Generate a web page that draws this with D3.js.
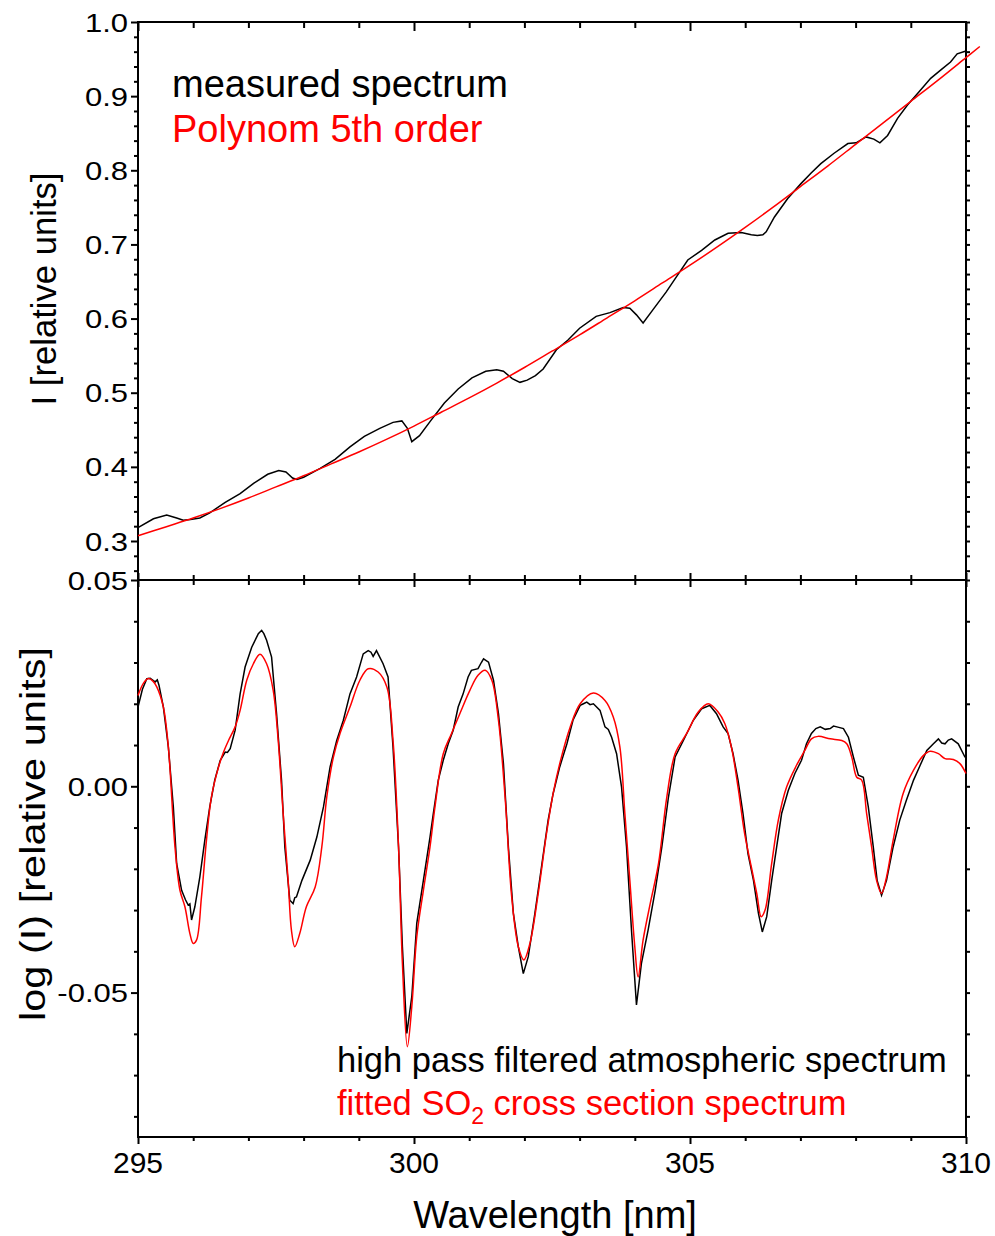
<!DOCTYPE html>
<html>
<head>
<meta charset="utf-8">
<script src="https://cdn.jsdelivr.net/npm/d3@7"></script>
<style>
  html, body { margin: 0; padding: 0; background: #fff; }
  svg { display: block; }
  text { font-family: "Liberation Sans", Arial, sans-serif; }
</style>
</head>
<body>
<svg id="chart" width="995" height="1236"></svg>
<script>
// ---------------- DATA ----------------
// Top panel: measured spectrum (wavelength nm, intensity)
const topMeasNm = [295.00,295.28,295.52,295.70,295.82,295.95,296.12,296.30,296.58,296.85,297.10,297.35,297.55,297.68,297.80,297.88,298.00,298.30,298.57,298.84,299.10,299.38,299.62,299.78,299.88,299.96,300.10,300.30,300.55,300.80,301.05,301.30,301.50,301.62,301.78,301.92,302.05,302.20,302.34,302.58,302.79,303.00,303.30,303.55,303.79,303.91,304.03,304.15,304.33,304.57,304.75,304.96,305.21,305.45,305.69,305.93,306.11,306.22,306.32,306.38,306.53,306.77,307.01,307.19,307.37,307.61,307.86,308.01,308.19,308.33,308.44,308.58,308.76,308.94,309.15,309.36,309.54,309.72,309.84,310.00];
const topMeasI  = [0.318,0.330,0.335,0.331,0.328,0.329,0.331,0.338,0.352,0.364,0.378,0.390,0.395,0.393,0.385,0.383,0.386,0.398,0.410,0.427,0.441,0.452,0.460,0.462,0.452,0.434,0.442,0.462,0.486,0.505,0.520,0.529,0.531,0.529,0.519,0.514,0.517,0.523,0.532,0.558,0.571,0.587,0.603,0.608,0.615,0.614,0.605,0.594,0.612,0.636,0.656,0.679,0.692,0.706,0.715,0.716,0.713,0.712,0.713,0.717,0.737,0.762,0.782,0.796,0.809,0.823,0.836,0.837,0.845,0.842,0.837,0.847,0.870,0.888,0.906,0.924,0.935,0.946,0.957,0.961];

// Top panel: 5th order polynomial fit
const topPolyNm = [295.0,295.5,296.0,296.5,297.0,297.5,298.0,298.5,299.0,299.5,300.0,300.5,301.0,301.5,302.0,302.5,303.0,303.5,304.0,304.5,305.0,305.5,306.0,306.5,307.0,307.5,308.0,308.5,309.0,309.5,310.0,310.25];
const topPolyI  = [0.307,0.319,0.331,0.344,0.358,0.373,0.388,0.404,0.420,0.437,0.455,0.474,0.493,0.513,0.534,0.556,0.578,0.601,0.624,0.648,0.672,0.697,0.723,0.750,0.778,0.806,0.835,0.864,0.893,0.922,0.952,0.967];

// Bottom panel: high pass filtered atmospheric spectrum
const botMeasNm = [295.00,295.08,295.16,295.22,295.31,295.35,295.38,295.46,295.55,295.64,295.70,295.79,295.86,295.91,295.94,295.97,296.03,296.12,296.21,296.30,296.39,296.49,296.58,296.62,296.67,296.76,296.85,296.94,297.06,297.18,297.24,297.28,297.33,297.42,297.51,297.60,297.66,297.75,297.81,297.84,297.87,297.97,298.12,298.24,298.36,298.48,298.60,298.72,298.84,298.96,299.08,299.17,299.22,299.26,299.32,299.44,299.53,299.62,299.72,299.79,299.87,299.96,300.05,300.17,300.29,300.35,300.44,300.53,300.62,300.71,300.80,300.89,300.98,301.04,301.16,301.22,301.26,301.35,301.44,301.53,301.62,301.71,301.80,301.89,301.98,302.07,302.19,302.31,302.43,302.52,302.64,302.77,302.88,303.01,303.07,303.13,303.19,303.25,303.37,303.46,303.52,303.58,303.67,303.76,303.85,303.94,304.03,304.12,304.24,304.37,304.49,304.61,304.73,304.88,305.06,305.21,305.36,305.48,305.60,305.69,305.78,305.87,305.96,306.05,306.15,306.24,306.31,306.39,306.48,306.57,306.66,306.78,306.90,307.02,307.11,307.20,307.28,307.36,307.45,307.54,307.60,307.66,307.78,307.87,307.96,308.05,308.14,308.23,308.32,308.39,308.47,308.56,308.68,308.80,308.92,309.05,309.17,309.29,309.41,309.50,309.56,309.62,309.68,309.74,309.86,309.98,310.00];
const botMeasV  = [0.0192,0.0235,0.0261,0.0262,0.0253,0.0258,0.0245,0.0192,0.0095,-0.0050,-0.0187,-0.0252,-0.0275,-0.0288,-0.0285,-0.0324,-0.0292,-0.0220,-0.0131,-0.0050,0.0015,0.0063,0.0083,0.0082,0.0091,0.0136,0.0224,0.0289,0.0337,0.0370,0.0378,0.0370,0.0354,0.0313,0.0176,0.0015,-0.0147,-0.0276,-0.0284,-0.0270,-0.0268,-0.0228,-0.0179,-0.0123,-0.0050,0.0047,0.0111,0.0160,0.0224,0.0265,0.0321,0.0329,0.0325,0.0315,0.0329,0.0297,0.0265,0.0095,-0.0147,-0.0389,-0.0599,-0.0510,-0.0332,-0.0228,-0.0123,-0.0066,0.0015,0.0063,0.0103,0.0136,0.0192,0.0224,0.0265,0.0281,0.0285,0.0300,0.0309,0.0301,0.0257,0.0176,0.0055,-0.0147,-0.0308,-0.0389,-0.0454,-0.0413,-0.0308,-0.0195,-0.0082,-0.0018,0.0047,0.0103,0.0160,0.0196,0.0200,0.0204,0.0198,0.0200,0.0184,0.0144,0.0138,0.0119,0.0079,-0.0002,-0.0147,-0.0349,-0.0530,-0.0429,-0.0349,-0.0252,-0.0147,-0.0026,0.0071,0.0111,0.0160,0.0188,0.0196,0.0176,0.0144,0.0128,0.0079,0.0015,-0.0066,-0.0163,-0.0228,-0.0308,-0.0353,-0.0316,-0.0228,-0.0147,-0.0066,-0.0010,0.0031,0.0063,0.0103,0.0128,0.0140,0.0144,0.0138,0.0140,0.0146,0.0144,0.0140,0.0119,0.0071,0.0027,0.0022,-0.0050,-0.0147,-0.0228,-0.0264,-0.0228,-0.0147,-0.0082,-0.0034,0.0015,0.0051,0.0087,0.0103,0.0115,0.0105,0.0103,0.0112,0.0115,0.0103,0.0071,0.0070];

// Bottom panel: fitted SO2 cross section spectrum
const botFitNm = [295.00,295.10,295.19,295.27,295.34,295.46,295.55,295.67,295.76,295.85,295.94,296.00,296.06,296.15,296.24,296.33,296.46,296.55,296.64,296.76,296.85,296.97,297.09,297.21,297.33,297.45,297.54,297.63,297.72,297.78,297.84,297.93,298.05,298.21,298.33,298.42,298.54,298.66,298.84,299.02,299.17,299.35,299.51,299.62,299.72,299.79,299.88,299.96,300.05,300.17,300.29,300.38,300.53,300.68,300.83,301.01,301.16,301.29,301.41,301.53,301.65,301.77,301.89,301.99,302.10,302.25,302.40,302.52,302.64,302.83,303.01,303.25,303.46,303.61,303.73,303.82,303.91,304.00,304.06,304.15,304.28,304.43,304.58,304.73,304.94,305.15,305.33,305.51,305.63,305.75,305.87,305.99,306.11,306.21,306.29,306.36,306.48,306.60,306.75,306.93,307.08,307.20,307.32,307.54,307.75,307.84,307.93,308.02,308.11,308.20,308.29,308.38,308.47,308.56,308.68,308.86,309.05,309.23,309.35,309.50,309.62,309.77,309.89,310.00];
const botFitV  = [0.0220,0.0250,0.0261,0.0255,0.0241,0.0192,0.0095,-0.0147,-0.0252,-0.0292,-0.0357,-0.0381,-0.0373,-0.0268,-0.0131,-0.0026,0.0047,0.0083,0.0111,0.0144,0.0184,0.0257,0.0297,0.0320,0.0297,0.0232,0.0111,-0.0066,-0.0228,-0.0349,-0.0389,-0.0357,-0.0292,-0.0244,-0.0147,-0.0026,0.0071,0.0128,0.0192,0.0257,0.0285,0.0277,0.0240,0.0111,-0.0147,-0.0429,-0.0631,-0.0534,-0.0365,-0.0252,-0.0147,-0.0050,0.0079,0.0128,0.0176,0.0232,0.0269,0.0281,0.0257,0.0160,-0.0026,-0.0268,-0.0389,-0.0421,-0.0381,-0.0260,-0.0115,-0.0018,0.0055,0.0144,0.0200,0.0226,0.0208,0.0168,0.0095,-0.0066,-0.0228,-0.0389,-0.0462,-0.0373,-0.0284,-0.0187,-0.0026,0.0079,0.0128,0.0180,0.0200,0.0180,0.0152,0.0095,-0.0002,-0.0115,-0.0195,-0.0260,-0.0316,-0.0300,-0.0187,-0.0082,-0.0002,0.0051,0.0087,0.0115,0.0121,0.0115,0.0111,0.0103,0.0071,0.0022,0.0015,-0.0066,-0.0147,-0.0228,-0.0260,-0.0220,-0.0131,-0.0018,0.0039,0.0075,0.0085,0.0079,0.0067,0.0065,0.0055,0.0031];

// Tick values / labels
const xMajorTicks = [295, 300, 305, 310];
const xMinorTicks = [296,297,298,299,301,302,303,304,306,307,308,309];
const topYMajor = [0.3,0.4,0.5,0.6,0.7,0.8,0.9,1.0];
const topYMinor = [0.26,0.28,0.32,0.34,0.36,0.38,0.42,0.44,0.46,0.48,0.52,0.54,0.56,0.58,0.62,0.64,0.66,0.68,0.72,0.74,0.76,0.78,0.82,0.84,0.86,0.88,0.92,0.94,0.96,0.98];
const botYMajor = [0.05, 0.00, -0.05];
const botYMinor = [0.04,0.03,0.02,0.01,-0.01,-0.02,-0.03,-0.04,-0.06,-0.07,-0.08];

// ---------------- LAYOUT ----------------
const L = 138, R = 966, T = 22, M = 580, B = 1137;
const svg = d3.select("#chart");

const x = d3.scaleLinear().domain([295, 310]).range([L, R]);
const yTop = d3.scaleLinear().domain([0.2474, 1.0]).range([M, T]);
const yBot = d3.scaleLinear().domain([-0.085, 0.05]).range([B, M]);

const AX = 2; // axis stroke width

function styleAxis(g) {
  g.select(".domain").remove();
  g.selectAll(".tick line").attr("stroke", "#000").attr("stroke-width", AX);
}

// ---- Top panel left axis
svg.append("g").attr("transform", `translate(${L},0)`)
  .call(d3.axisLeft(yTop).tickValues(topYMinor).tickSize(4).tickFormat(""))
  .call(styleAxis);
svg.append("g").attr("transform", `translate(${L},0)`)
  .call(d3.axisLeft(yTop).tickValues(topYMajor).tickSize(7).tickFormat(""))
  .call(styleAxis);
// right
svg.append("g").attr("transform", `translate(${R},0)`)
  .call(d3.axisRight(yTop).tickValues(topYMinor.concat(topYMajor)).tickSize(4).tickFormat(""))
  .call(styleAxis);

// ---- Bottom panel left axis
svg.append("g").attr("transform", `translate(${L},0)`)
  .call(d3.axisLeft(yBot).tickValues(botYMinor).tickSize(4).tickFormat(""))
  .call(styleAxis);
svg.append("g").attr("transform", `translate(${L},0)`)
  .call(d3.axisLeft(yBot).tickValues(botYMajor).tickSize(7).tickFormat(""))
  .call(styleAxis);
svg.append("g").attr("transform", `translate(${R},0)`)
  .call(d3.axisRight(yBot).tickValues(botYMinor.concat(botYMajor)).tickSize(4).tickFormat(""))
  .call(styleAxis);

// ---- X ticks: top edge (inward), middle (both sides), bottom (outward)
svg.append("g").attr("transform", `translate(0,${T})`)
  .call(d3.axisTop(x).tickValues(xMinorTicks).tickSize(-6).tickFormat(""))
  .call(styleAxis);
svg.append("g").attr("transform", `translate(0,${T})`)
  .call(d3.axisTop(x).tickValues(xMajorTicks).tickSize(-9).tickFormat(""))
  .call(styleAxis);
svg.append("g").attr("transform", `translate(0,${M - 5})`)
  .call(d3.axisBottom(x).tickValues(xMinorTicks).tickSize(10).tickFormat(""))
  .call(styleAxis);
svg.append("g").attr("transform", `translate(0,${M - 7})`)
  .call(d3.axisBottom(x).tickValues(xMajorTicks).tickSize(14).tickFormat(""))
  .call(styleAxis);
svg.append("g").attr("transform", `translate(0,${B})`)
  .call(d3.axisBottom(x).tickValues(xMinorTicks).tickSize(4).tickFormat(""))
  .call(styleAxis);
svg.append("g").attr("transform", `translate(0,${B})`)
  .call(d3.axisBottom(x).tickValues(xMajorTicks).tickSize(7).tickFormat(""))
  .call(styleAxis);

// ---- Frames
const frame = svg.append("g").attr("fill", "none").attr("stroke", "#000").attr("stroke-width", AX);
frame.append("rect").attr("x", L).attr("y", T).attr("width", R - L).attr("height", B - T);
frame.append("line").attr("x1", L).attr("x2", R).attr("y1", M).attr("y2", M);

// ---- Tick labels
const tickFont = 26.5;
topYMajor.forEach(v => {
  svg.append("text")
    .attr("transform", `translate(128,${yTop(v)}) scale(1.17,1)`)
    .attr("text-anchor", "end").attr("dy", "0.36em")
    .attr("font-size", tickFont).attr("fill", "#000")
    .text(v.toFixed(1));
});
botYMajor.forEach(v => {
  svg.append("text")
    .attr("transform", `translate(128,${yBot(v)}) scale(1.17,1)`)
    .attr("text-anchor", "end").attr("dy", "0.36em")
    .attr("font-size", tickFont).attr("fill", "#000")
    .text(v.toFixed(2));
});
xMajorTicks.forEach(v => {
  svg.append("text")
    .attr("x", x(v)).attr("y", 1173)
    .attr("text-anchor", "middle")
    .attr("font-size", 30).attr("fill", "#000")
    .text(v);
});

// ---- Axis titles
svg.append("text")
  .attr("transform", `translate(56,289) rotate(-90)`)
  .attr("text-anchor", "middle").attr("font-size", 35)
  .attr("textLength", 233).attr("lengthAdjust", "spacingAndGlyphs")
  .text("I [relative units]");
svg.append("text")
  .attr("transform", `translate(45,834) rotate(-90)`)
  .attr("text-anchor", "middle").attr("font-size", 35)
  .attr("textLength", 374).attr("lengthAdjust", "spacingAndGlyphs")
  .text("log (I) [relative units]");
svg.append("text")
  .attr("x", 555).attr("y", 1228)
  .attr("text-anchor", "middle").attr("font-size", 38)
  .text("Wavelength [nm]");

// ---- Lines
const lineTop = d3.line().x(d => x(d[0])).y(d => yTop(d[1]));
const lineBot = d3.line().x(d => x(d[0])).y(d => yBot(d[1]));
const lineBotSmooth = d3.line().x(d => x(d[0])).y(d => yBot(d[1])).curve(d3.curveCatmullRom.alpha(0.5));
const lineTopSmooth = d3.line().x(d => x(d[0])).y(d => yTop(d[1])).curve(d3.curveCatmullRom.alpha(0.5));

svg.append("path").datum(d3.zip(topMeasNm, topMeasI))
  .attr("d", lineTop).attr("fill", "none").attr("stroke", "#000").attr("stroke-width", 1.5);
svg.append("path").datum(d3.zip(topPolyNm, topPolyI))
  .attr("d", lineTopSmooth).attr("fill", "none").attr("stroke", "#ff0000").attr("stroke-width", 1.5);

svg.append("path").datum(d3.zip(botMeasNm, botMeasV))
  .attr("d", lineBot).attr("fill", "none").attr("stroke", "#000").attr("stroke-width", 1.5);
svg.append("path").datum(d3.zip(botFitNm, botFitV))
  .attr("d", lineBotSmooth).attr("fill", "none").attr("stroke", "#ff0000").attr("stroke-width", 1.5);

// ---- Legends
svg.append("text").attr("x", 172).attr("y", 97).attr("font-size", 38).attr("fill", "#000")
  .text("measured spectrum");
svg.append("text").attr("x", 172).attr("y", 142).attr("font-size", 38).attr("fill", "#ff0000")
  .text("Polynom 5th order");

svg.append("text").attr("x", 337).attr("y", 1072).attr("font-size", 34.5).attr("fill", "#000")
  .text("high pass filtered atmospheric spectrum");
const t2 = svg.append("text").attr("x", 337).attr("y", 1115).attr("font-size", 34.5).attr("fill", "#ff0000");
t2.append("tspan").text("fitted SO");
t2.append("tspan").attr("font-size", 23).attr("dy", 9).text("2");
t2.append("tspan").attr("dy", -9).text(" cross section spectrum");
</script>
</body>
</html>
